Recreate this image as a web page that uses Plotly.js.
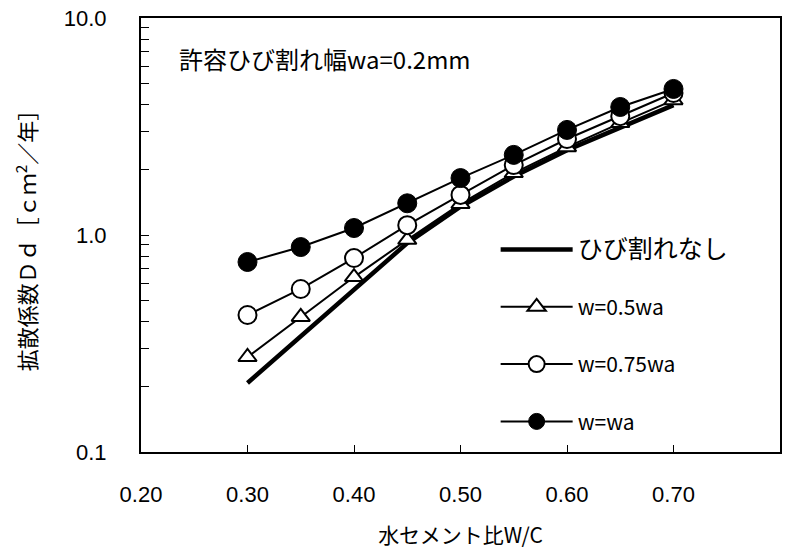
<!DOCTYPE html>
<html>
<head>
<meta charset="utf-8">
<script src="https://cdn.plot.ly/plotly-3.0.1.min.js"></script>
<style>html,body{margin:0;padding:0;background:#fff;}#chart{width:801px;height:550px;}</style>
</head>
<body>
<div id="chart"></div>
<script>
// W/C ratio
const wc = [0.30, 0.35, 0.40, 0.45, 0.50, 0.55, 0.60, 0.65, 0.70];
// Diffusion coefficient Dd [cm2/year]
const noCrack = [0.208, 0.34, 0.558, 0.918, 1.35, 1.86, 2.46, 3.14, 3.97];
const w05 = [0.274, 0.419, 0.64, 0.95, 1.39, 1.93, 2.54, 3.28, 4.18];
const w075 = [0.428, 0.564, 0.783, 1.11, 1.53, 2.10, 2.77, 3.53, 4.51];
const w10 = [0.751, 0.88, 1.077, 1.40, 1.83, 2.34, 3.05, 3.89, 4.71];
const names = ['<span style="font-size:25px">ひび割れなし</span>', 'w=0.5wa', 'w=0.75wa', 'w=wa'];
const xTicks = [0.2, 0.3, 0.4, 0.5, 0.6, 0.7, 0.8];
const xTickText = ['0.20', '0.30', '0.40', '0.50', '0.60', '0.70', '0.80'];
const yTicks = [0.1, 1, 10];
const yTickText = ['0.1', '1.0', '10.0'];
const yMinor = [0.2,0.3,0.4,0.5,0.6,0.7,0.8,0.9,2,3,4,5,6,7,8,9];

const cjk = '"Noto Sans CJK JP", "Noto Sans", sans-serif';
const lat = '"Liberation Sans", Arial, sans-serif';

const traces = [
  {x: wc, y: noCrack, name: names[0], mode: 'lines', legendgroup: 'a',
   line: {color: '#000', width: 4.5}},
  {x: wc, y: w05, name: names[1], mode: 'lines+markers', legendgroup: 'b',
   line: {color: '#000', width: 2},
   marker: {symbol: 'triangle-up', size: 16, color: '#fff', line: {color: '#000', width: 2}}},
  {x: wc, y: w075, name: names[2], mode: 'lines+markers', legendgroup: 'c',
   line: {color: '#000', width: 2},
   marker: {symbol: 'circle', size: 18, color: '#fff', line: {color: '#000', width: 2}}},
  {x: wc, y: w10, name: names[3], mode: 'lines+markers', legendgroup: 'd',
   line: {color: '#000', width: 2},
   marker: {symbol: 'circle', size: 19, color: '#000', line: {color: '#000', width: 1}}}
];

const layout = {
  width: 801, height: 550,
  margin: {l: 141, r: 21, t: 18, b: 98},
  paper_bgcolor: '#fff', plot_bgcolor: '#fff',
  font: {family: cjk, color: '#000', size: 20},
  showlegend: true,
  legend: {x: 0.555, y: 0.513, xanchor: 'left', yanchor: 'top',
           bgcolor: 'rgba(255,255,255,0)', borderwidth: 0,
           font: {family: cjk, size: 21, color: '#000'},
           itemwidth: 72, tracegroupgap: 27, traceorder: 'grouped', itemsizing: 'trace'},
  xaxis: {
    range: [0.2, 0.8], tickmode: 'array', tickvals: xTicks, ticktext: xTickText,
    ticks: 'inside', ticklen: 7, tickwidth: 1, tickcolor: '#000',
    showline: true, linewidth: 2, linecolor: '#000', mirror: true,
    showgrid: false, zeroline: false,
    ticklabelstandoff: 22,
    tickfont: {family: lat, size: 22},
    title: {text: '水セメント比W/C', font: {family: cjk, size: 21}, standoff: 22}
  },
  yaxis: {
    type: 'log', range: [-1, 1], tickmode: 'array', tickvals: yTicks, ticktext: yTickText,
    ticks: 'inside', ticklen: 8, tickwidth: 1, tickcolor: '#000',
    minor: {tickmode: 'array', tickvals: yMinor, ticks: 'inside', ticklen: 8, tickwidth: 1, tickcolor: '#000', showgrid: false},
    showline: true, linewidth: 2, linecolor: '#000', mirror: true,
    showgrid: false, zeroline: false,
    ticklabelstandoff: 28,
    tickfont: {family: lat, size: 22},
    title: {text: '拡散係数Ｄｄ［ｃｍ<sup>2</sup>／年］', font: {family: cjk, size: 22}, standoff: 21}
  },
  annotations: [
    {xref: 'paper', yref: 'paper', x: 0.056, y: 0.906, xanchor: 'left', yanchor: 'middle',
     text: '許容ひび割れ幅wa=0.2mm', showarrow: false, font: {family: cjk, size: 24, color: '#000'}}
  ]
};

Plotly.newPlot('chart', traces, layout, {displayModeBar: false, staticPlot: true});
</script>
</body>
</html>
